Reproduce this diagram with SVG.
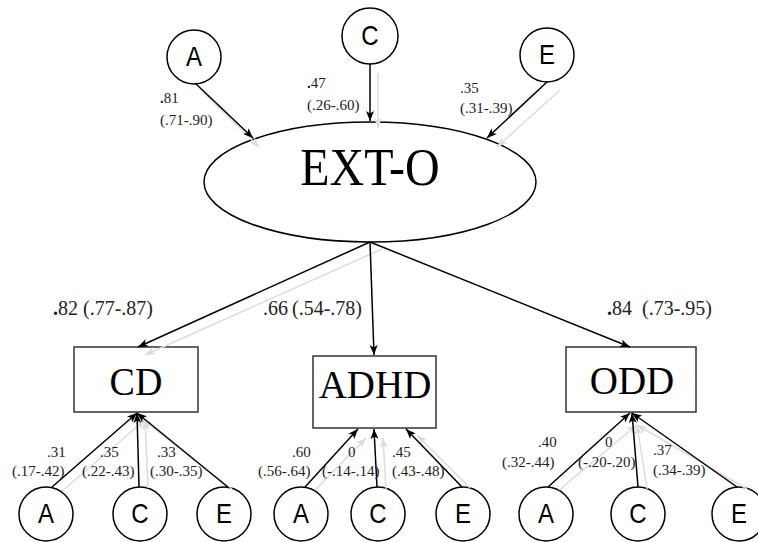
<svg xmlns="http://www.w3.org/2000/svg" width="758" height="542" viewBox="0 0 758 542">
<style>
.node circle,.node ellipse{fill:#fff;stroke:#000;stroke-width:1.5}
.node rect{fill:#fff;stroke:#333;stroke-width:1.5}
.lt{font-family:"Liberation Sans",Arial,sans-serif;font-size:24px;text-anchor:middle;fill:#000}
.big{font-family:"Liberation Serif","Times New Roman",serif;text-anchor:middle;fill:#000}
.lab{font-family:"Liberation Serif","Times New Roman",serif;font-size:15px;fill:#222}
.mid{font-family:"Liberation Serif","Times New Roman",serif;font-size:20px;fill:#222}
.c{stroke:#000;stroke-width:1.5;fill:none;marker-end:url(#ah)}
.g{stroke:#dcdcdc;stroke-width:1.5;fill:none;marker-end:url(#ahg)}
</style>
<defs>
<marker id="ah" markerWidth="10" markerHeight="8" refX="10" refY="4" orient="auto" markerUnits="userSpaceOnUse"><path d="M0,0 L10,4 L0,8 L2.5,4 z" fill="#000"/></marker>
<marker id="ahg" markerWidth="10" markerHeight="8" refX="10" refY="4" orient="auto" markerUnits="userSpaceOnUse"><path d="M0,0 L10,4 L0,8 L2.5,4 z" fill="#dcdcdc"/></marker>
</defs>

<g id="top-A" class="node"><circle cx="194" cy="57" r="27"/><text class="lt" transform="translate(194,66) scale(1,1.12)">A</text></g>
<g id="top-C" class="node"><circle cx="370" cy="36" r="28"/><text class="lt" transform="translate(370,45) scale(1,1.12)">C</text></g>
<g id="top-E" class="node"><circle cx="547" cy="55" r="27"/><text class="lt" transform="translate(547,64) scale(1,1.12)">E</text></g>

<g id="EXT-O" class="node"><ellipse cx="370" cy="182" rx="166" ry="60"/><text class="big" font-size="48" transform="translate(370,185) scale(1,1.12)">EXT-O</text></g>

<g id="CD" class="node"><rect x="74" y="347" width="124" height="65"/><text class="big" font-size="38" transform="translate(136,395) scale(1,1.08)">CD</text></g>
<g id="ADHD" class="node"><rect x="313" y="356" width="123" height="72"/><text class="big" font-size="39" transform="translate(375,398) scale(1,1.02)">ADHD</text></g>
<g id="ODD" class="node"><rect x="566" y="347" width="130" height="65"/><text class="big" font-size="39" transform="translate(632,394) scale(1,1.05)">ODD</text></g>

<g id="CD-A" class="node"><circle cx="46" cy="514" r="27"/><text class="lt" transform="translate(46,523) scale(1,1.12)">A</text></g>
<g id="CD-C" class="node"><circle cx="140" cy="514" r="27"/><text class="lt" transform="translate(140,523) scale(1,1.12)">C</text></g>
<g id="CD-E" class="node"><circle cx="224" cy="514" r="27"/><text class="lt" transform="translate(224,523) scale(1,1.12)">E</text></g>

<g id="ADHD-A" class="node"><circle cx="301" cy="514" r="27"/><text class="lt" transform="translate(301,523) scale(1,1.12)">A</text></g>
<g id="ADHD-C" class="node"><circle cx="378" cy="514" r="27"/><text class="lt" transform="translate(378,523) scale(1,1.12)">C</text></g>
<g id="ADHD-E" class="node"><circle cx="463" cy="514" r="27"/><text class="lt" transform="translate(463,523) scale(1,1.12)">E</text></g>

<g id="ODD-A" class="node"><circle cx="546" cy="514" r="27"/><text class="lt" transform="translate(546,523) scale(1,1.12)">A</text></g>
<g id="ODD-C" class="node"><circle cx="638" cy="514" r="27"/><text class="lt" transform="translate(638,523) scale(1,1.12)">C</text></g>
<g id="ODD-E" class="node"><circle cx="739" cy="514" r="27"/><text class="lt" transform="translate(739,523) scale(1,1.12)">E</text></g>

<g id="connectors">
  <line class="g" x1="203" y1="92" x2="259" y2="147"/>
  <line class="g" x1="378" y1="73" x2="378" y2="128"/>
  <line class="g" x1="560" y1="90" x2="497" y2="147"/>
  <line class="g" x1="382" y1="249" x2="145" y2="355"/>
  <line class="g" x1="62" y1="491" x2="145" y2="420"/>
  <line class="g" x1="148" y1="488" x2="145" y2="420"/>
  <line class="g" x1="232" y1="489" x2="143" y2="420"/>
  <line class="g" x1="315" y1="490" x2="366" y2="438"/>
  <line class="g" x1="386" y1="489" x2="383" y2="438"/>
  <line class="g" x1="470" y1="488" x2="417" y2="435"/>
  <line class="g" x1="559" y1="490" x2="637" y2="425"/>
  <line class="g" x1="647" y1="489" x2="637" y2="425"/>
  <line class="g" x1="747" y1="489" x2="637" y2="425"/>
  <line class="c" x1="195" y1="83" x2="253" y2="138"/>
  <line class="c" x1="370" y1="64" x2="370" y2="121"/>
  <line class="c" x1="547" y1="82" x2="487" y2="138"/>
  <line class="c" x1="370" y1="242" x2="138" y2="347"/>
  <line class="c" x1="370" y1="242" x2="374" y2="355"/>
  <line class="c" x1="370" y1="242" x2="630" y2="347"/>
  <line class="c" x1="52" y1="487" x2="137" y2="413"/>
  <line class="c" x1="139" y1="487" x2="137" y2="413"/>
  <line class="c" x1="229" y1="488" x2="137" y2="413"/>
  <line class="c" x1="305" y1="487" x2="358" y2="429"/>
  <line class="c" x1="377" y1="487" x2="374" y2="429"/>
  <line class="c" x1="462" y1="487" x2="406" y2="429"/>
  <line class="c" x1="548" y1="487" x2="630" y2="413"/>
  <line class="c" x1="638" y1="487" x2="632" y2="413"/>
  <line class="c" x1="737" y1="487" x2="632" y2="413"/>
</g>

<g id="labels">
  <text class="lab" x="160" y="103"><tspan font-weight="bold">.</tspan>81</text>
  <text class="lab" x="160" y="125">(.71-.90)</text>
  <text class="lab" x="307" y="88"><tspan font-weight="bold">.</tspan>47</text>
  <text class="lab" x="307" y="110">(.26-.60)</text>
  <text class="lab" x="460" y="93">.35</text>
  <text class="lab" x="460" y="113">(.31-.39)</text>

  <text class="mid" x="53" y="315"><tspan font-weight="bold">.</tspan>82<tspan x="83">(.77-.87)</tspan></text>
  <text class="mid" x="263" y="315">.66<tspan x="292">(.54-.78)</tspan></text>
  <text class="mid" x="607" y="315"><tspan font-weight="bold">.</tspan>84<tspan x="642">(.73-.95)</tspan></text>

  <text class="lab" x="47" y="457">.31</text>
  <text class="lab" x="12" y="476">(.17-.42)</text>
  <text class="lab" x="100" y="457">.35</text>
  <text class="lab" x="82" y="476">(.22-.43)</text>
  <text class="lab" x="157" y="457">.33</text>
  <text class="lab" x="150" y="476">(.30-.35)</text>

  <text class="lab" x="292" y="457">.60</text>
  <text class="lab" x="258" y="476">(.56-.64)</text>
  <text class="lab" x="348" y="457">0</text>
  <text class="lab" x="322" y="476">(-.14-.14)</text>
  <text class="lab" x="392" y="457">.45</text>
  <text class="lab" x="392" y="476">(.43-.48)</text>

  <text class="lab" x="538" y="447">.40</text>
  <text class="lab" x="502" y="467">(.32-.44)</text>
  <text class="lab" x="605" y="447">0</text>
  <text class="lab" x="578" y="467">(-.20-.20)</text>
  <text class="lab" x="653" y="455">.37</text>
  <text class="lab" x="653" y="475">(.34-.39)</text>
</g>
</svg>
